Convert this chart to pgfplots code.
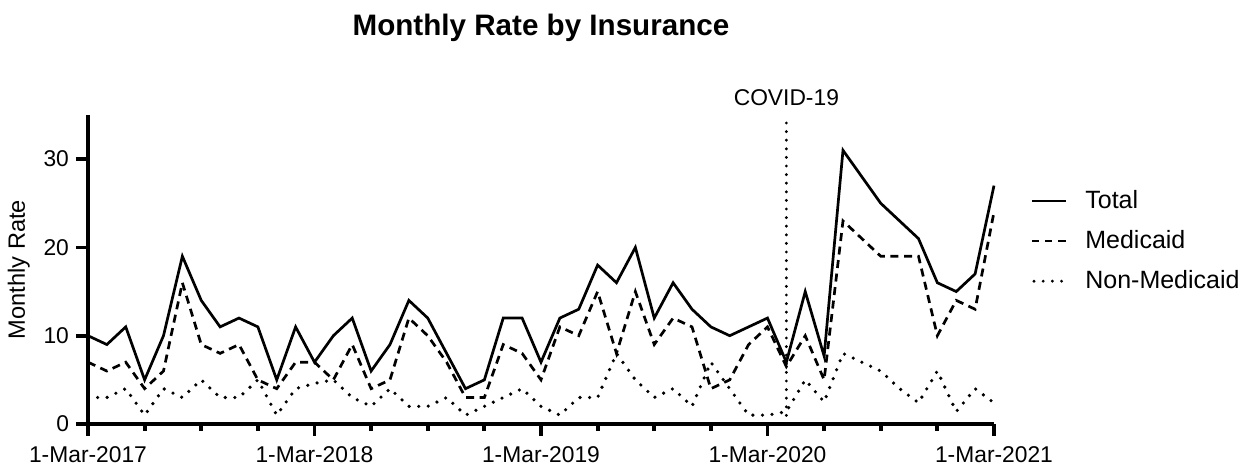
\documentclass[border=0pt]{standalone}
\usepackage{fontspec}
\setmainfont{Liberation Sans}
\usepackage{pgfplots}
\pgfplotsset{compat=1.18}
\usepackage{pgfplotstable}

\pgfplotstableread{
m total medicaid non
0 10 7 3
1 9 6 3
2 11 7 4
3 5 4 1
4 10 6 4
5 19 16 3
6 14 9 5
7 11 8 3
8 12 9 3
9 11 5 5
10 5 4 1
11 11 7 4
12 7 7 4.6
13 10 5 5
14 12 9 3
15 6 4 2
16 9 5 4
17 14 12 2
18 12 10 2
19 8 7 3
20 4 3 1
21 5 3 2
22 12 9 3
23 12 8 4
24 7 5 2
25 12 11 1
26 13 10 3
27 18 15 3
28 16 8 8
29 20 15 5
30 12 9 3
31 16 12 4
32 13 11 2
33 11 4 7
34 10 5 4
35 11 9 1
36 12 11 1
37 7 6.5 1.4
38 15 10 5
39 7.7 5 2.5
40 31 23 8
41 28 21 7
42 25 19 6
43 23 19 4
44 21 19 2.4
45 16 10 6
46 15 14 1.4
47 17 13 4
48 27 24 2.4
}\datatable

\newcommand{\tfont}{\fontsize{11.4}{13.5}\selectfont}

\begin{document}
\begin{tikzpicture}
\useasboundingbox (-44pt,-21pt) rectangle (581pt,212pt);
\begin{axis}[
  scale only axis,
  width=453pt, height=154.5pt,
  xmin=0, xmax=48, ymin=0, ymax=35,
  axis lines=left,
  axis line style={line width=1.9pt, -},
  xtick={0,12,24,36,48},
  xticklabels={1-Mar-2017,1-Mar-2018,1-Mar-2019,1-Mar-2020,1-Mar-2021},
  minor x tick num=3,
  ytick={0,10,20,30},
  tick align=outside,
  major tick length=6pt,
  minor tick length=3.5pt,
  every tick/.style={black, line width=1.9pt},
  tick label style={font=\tfont},
  xticklabel style={yshift=-2pt},
  /pgf/number format/assume math mode=true,
  ylabel={Monthly Rate},
  ylabel style={font=\fontsize{11.8}{14}\selectfont, xshift=0pt},
  clip=false,
  legend style={draw=none, at={(1.04,0.592)}, anchor=west,
    font=\fontsize{12.5}{14.5}\selectfont, row sep=5.5pt, inner sep=0pt,
    /tikz/every odd column/.append style={column sep=7pt}},
  legend cell align=left,
]
\addplot[black, line width=1.35pt,
  legend image code/.code={\draw[black, line width=1.35pt] (0pt,0pt) -- (17pt,0pt);}] table[x=m, y=total] {\datatable};
\addlegendentry{Total}
\addplot[black, line width=1.35pt, dash pattern=on 4pt off 2.8pt,
  legend image code/.code={\draw[black, line width=1.35pt, dash pattern=on 3.6pt off 3pt] (0pt,0pt) -- (17pt,0pt);}] table[x=m, y=medicaid] {\datatable};
\addlegendentry{Medicaid}
\addplot[black, line width=1.8pt, line cap=round, dash pattern=on 0pt off 4.8pt,
  legend image code/.code={\draw[black, line width=1.6pt, line cap=round, dash pattern=on 0pt off 4.6pt] (1pt,0pt) -- (15pt,0pt);}] table[x=m, y=non] {\datatable};
\addlegendentry{Non-Medicaid}
\addplot[black, line width=1.6pt, line cap=round, dash pattern=on 0pt off 4.3pt, forget plot] coordinates {(37,0) (37,35)};
\node[anchor=base, font=\tfont] at (axis cs:37,35) [yshift=4.5pt] {COVID-19};
\node[anchor=base, font=\bfseries\fontsize{14.8}{17}\selectfont] at (rel axis cs:0.5,1) [yshift=40pt] {Monthly Rate by Insurance};
\end{axis}
\end{tikzpicture}
\end{document}
